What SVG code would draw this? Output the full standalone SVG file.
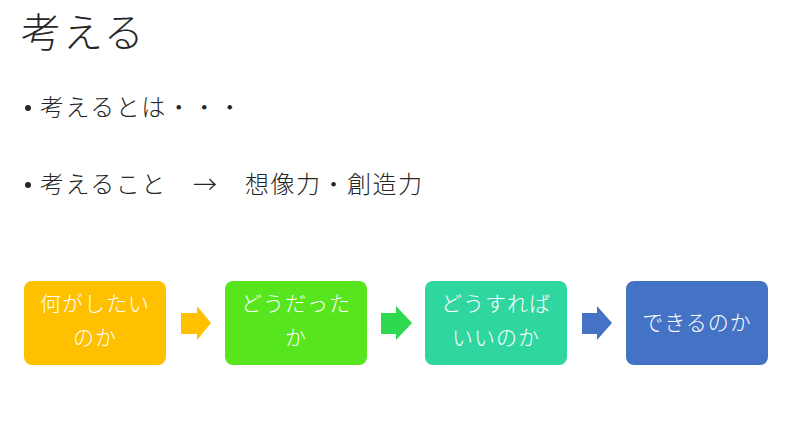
<svg xmlns="http://www.w3.org/2000/svg" width="800" height="424" viewBox="0 0 800 424">
<style>
.t{font-family:"Noto Sans CJK JP","Noto Sans",sans-serif;fill:#262626;font-weight:300}
.b{font-family:"Noto Sans CJK JP","Noto Sans",sans-serif;fill:#fff;font-size:21px;letter-spacing:1px;text-anchor:middle;font-weight:300}
</style>
<rect width="800" height="424" fill="#fff"/>
<text class="t" x="21" y="47" font-size="40" letter-spacing="2">考える</text>
<circle cx="28" cy="108" r="3" fill="#262626"/>
<text class="t" x="40" y="116" font-size="24" letter-spacing="1.5">考えるとは・・・</text>
<circle cx="28" cy="185" r="3" fill="#262626"/>
<text class="t" y="193" font-size="24" letter-spacing="1.5"><tspan x="40">考えること</tspan><tspan x="193">→</tspan><tspan x="245">想像力・創造力</tspan></text>
<g id="node1"><rect x="24" y="281" width="142" height="84" rx="8" fill="#FFC000"/><text class="b" x="95" y="311">何がしたい</text><text class="b" x="95" y="345">のか</text></g>
<g id="node2"><rect x="225" y="281" width="142" height="84" rx="8" fill="#57E61E"/><text class="b" x="296" y="311">どうだった</text><text class="b" x="296" y="345">か</text></g>
<g id="node3"><rect x="425" y="281" width="142" height="84" rx="8" fill="#30D6A0"/><text class="b" x="496" y="311">どうすれば</text><text class="b" x="496" y="345">いいのか</text></g>
<g id="node4"><rect x="626" y="281" width="142" height="84" rx="8" fill="#4472C4"/><text class="b" x="697" y="330">できるのか</text></g>
<g id="connectors">
<polygon points="181,313 197,313 197,306 211,323 197,340 197,334 181,334" fill="#FFC000"/>
<polygon points="381,313 396,313 396,306 412,323 396,340 396,334 381,334" fill="#2ED94F"/>
<polygon points="582,313 597,313 597,306 612,323 597,340 597,334 582,334" fill="#4472C4"/>
</g>
</svg>
